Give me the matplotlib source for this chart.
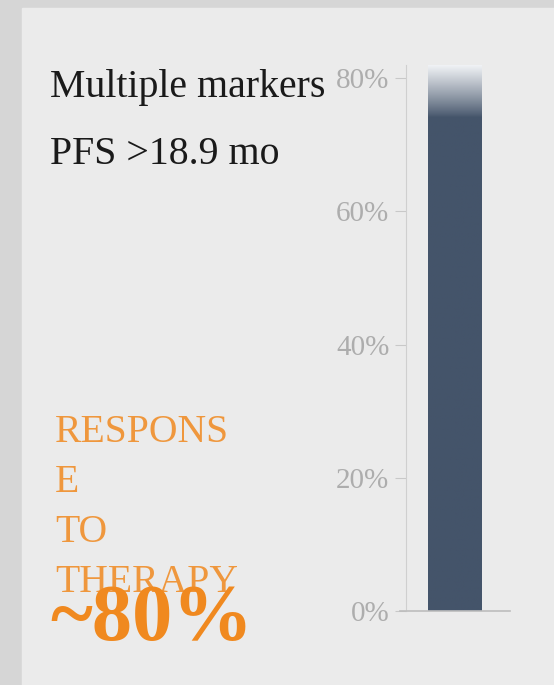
import numpy as np
import matplotlib.pyplot as plt
from matplotlib.patches import Rectangle
from matplotlib.colors import to_rgb

# data
categories = ["Multiple markers"]
values = [82]
yticks = [0, 20, 40, 60, 80]
ytick_labels = ["0%", "20%", "40%", "60%", "80%"]

BAR = "#44546a"
ORANGE = "#f0891f"
CARD = "#ebebeb"


def main():
    fig = plt.figure(figsize=(5.54, 6.85), dpi=100)
    fig.patch.set_facecolor("#d6d6d6")

    # card panel
    fig.patches.append(Rectangle((22 / 554, 0), 1, (685 - 8) / 685,
                                 transform=fig.transFigure, color=CARD, zorder=-5))

    ax = fig.add_axes([406 / 554, 74 / 685, 104 / 554, (620 - 74) / 685])
    ax.set_zorder(2)
    ax.set_facecolor("none")

    bars = ax.bar([0], values, width=0.51, color=BAR, zorder=2)

    # fade the top of the bar
    c0 = np.array(to_rgb(BAR))
    c1 = np.array(to_rgb("#f0f2f5"))
    t = np.linspace(0, 1, 600)
    t = np.clip((t - 0.905) / 0.095, 0, 1) ** 0.9
    grad = (c0[None, :] * (1 - t[:, None]) + c1[None, :] * t[:, None])[:, None, :]
    im = ax.imshow(grad, origin="lower", aspect="auto", zorder=3,
                   interpolation="bilinear",
                   extent=(-0.255, 0.255, 0, max(values)))
    im.set_clip_path(bars[0])
    ax.set_xlim(-0.466, 0.534)
    ax.set_ylim(0, max(values))

    ax.set_yticks(yticks)
    ax.set_yticklabels(ytick_labels, family="Liberation Serif", fontsize=21,
                       color="#adadad")
    ax.tick_params(axis="y", length=8, pad=4, color="#c8c8c8")
    ax.set_xticks([])
    for s in ["top", "right"]:
        ax.spines[s].set_visible(False)
    ax.spines["left"].set_color("#cfcfcf")
    ax.spines["bottom"].set_visible(False)
    ax.plot([-0.524, 0.534], [0, 0], color="#bdbdbd", lw=1.2, clip_on=False,
            zorder=4)

    serif = "Liberation Serif"
    fig.text(50 / 554, 1 - 97 / 685, "Multiple markers", family=serif,
             fontsize=28.7, color="#1a1a1a", va="baseline")
    fig.text(50 / 554, 1 - 164 / 685, "PFS >18.9 mo", family=serif,
             fontsize=28.7, color="#1a1a1a", va="baseline")

    lines = ["RESPONS", "E", "TO", "THERAPY"]
    for i, s in enumerate(lines):
        fig.text(55 / 554, 1 - (442 + i * 50) / 685, s, family=serif,
                 fontsize=28.5, color=ORANGE, alpha=0.85, va="baseline")
    fig.text(50 / 554, 1 - 640 / 685, "~80%", family=serif, fontsize=58,
             fontweight="bold", color=ORANGE, va="baseline")

    fig.savefig("out.png", dpi=100, facecolor=fig.get_facecolor())


if __name__ == '__main__':
    main()
